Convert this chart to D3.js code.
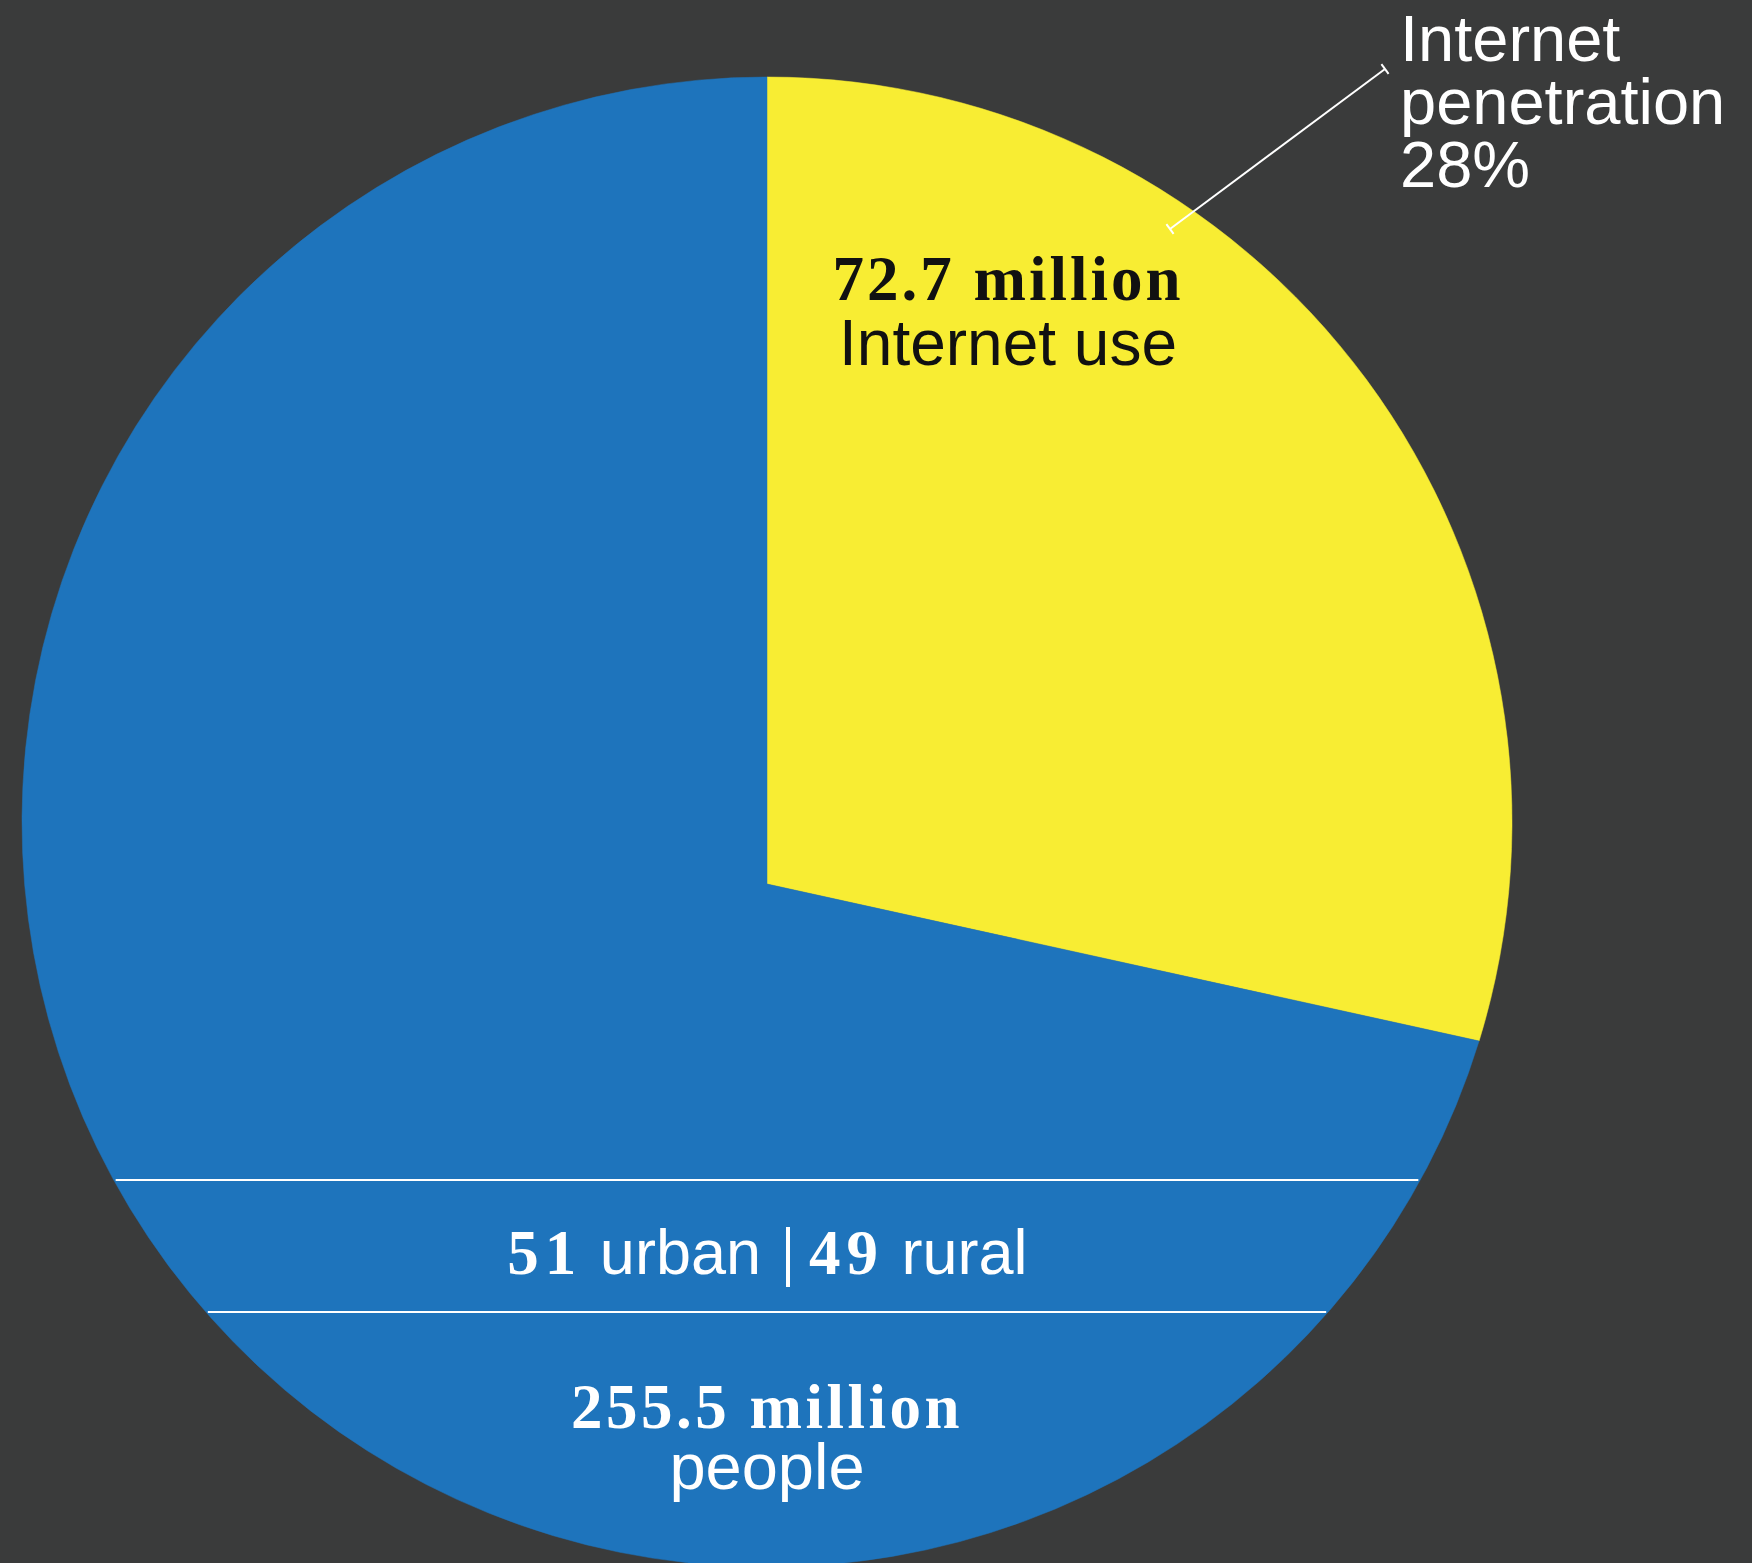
<!DOCTYPE html>
<html>
<head>
<meta charset="utf-8">
<script src="https://cdn.jsdelivr.net/npm/d3@7"></script>
<style>
  html, body { margin: 0; padding: 0; background: #3a3b3b; }
  svg { display: block; }
</style>
</head>
<body>
<div id="chart"></div>
<script>
// data (millions of people)
var categories = ["Internet use", "No Internet use"];
var values = [72.7, 182.8];
var colors = ["#f8ed33", "#1e74bc"];
var totalLabel = "255.5";
var useLabel = "72.7";
var penetration = ["Internet", "penetration", "28%"];
var urbanRural = [51, 49];

var width = 1752, height = 1563;

// circle geometry
var cx = 767, cy = 822, r = 745;
var apexOffset = 62; // the wedge tip sits a little below the circle centre

var svg = d3.select("#chart")
  .append("svg")
    .attr("width", width)
    .attr("height", height);

svg.append("rect")
  .attr("width", width)
  .attr("height", height)
  .attr("fill", "#3a3b3b");

var pie = d3.pie().sort(null).value(function(d) { return d; });
var arcs = pie(values);

// point where a ray from the apex at angle a (clockwise from top) meets the circle
function edgePoint(a) {
  var ux = Math.sin(a), uy = -Math.cos(a);
  var dx = 0, dy = apexOffset;
  var b = dx * ux + dy * uy;
  var t = -b + Math.sqrt(b * b - (dx * dx + dy * dy) + r * r);
  return [cx + dx + t * ux, cy + dy + t * uy];
}

function slicePath(d) {
  var p0 = edgePoint(d.startAngle),
      p1 = edgePoint(d.endAngle);
  // arc angle about the circle centre decides the large-arc flag
  var a0 = Math.atan2(p0[0] - cx, -(p0[1] - cy)),
      a1 = Math.atan2(p1[0] - cx, -(p1[1] - cy));
  var sweep = a1 - a0;
  while (sweep <= 0) sweep += 2 * Math.PI;
  var large = sweep > Math.PI ? 1 : 0;
  var path = d3.path();
  path.moveTo(cx, cy + apexOffset);
  path.lineTo(p0[0], p0[1]);
  return path.toString() +
    "A" + r + "," + r + " 0 " + large + " 1 " + p1[0] + "," + p1[1] + "Z";
}

svg.selectAll("path.slice")
  .data(arcs)
  .enter().append("path")
    .attr("class", "slice")
    .attr("d", slicePath)
    .attr("fill", function(d, i) { return colors[i]; })
    .attr("stroke", function(d, i) { return colors[i]; })
    .attr("stroke-width", 0.5);

// chords across the circle for the urban/rural band
function chord(y) {
  var h = Math.sqrt(r * r - (y - cy) * (y - cy));
  return [cx - h, cx + h];
}
[1180, 1312].forEach(function(y) {
  var c = chord(y);
  svg.append("line")
    .attr("x1", c[0] + 2).attr("x2", c[1] - 2)
    .attr("y1", y).attr("y2", y)
    .attr("stroke", "#ffffff")
    .attr("stroke-width", 2);
});

var sans = "'Liberation Sans', Arial, Helvetica, sans-serif";
var serif = "'Liberation Serif', 'Times New Roman', serif";

// Internet use label
svg.append("text")
  .attr("x", 1008).attr("y", 300)
  .attr("text-anchor", "middle")
  .attr("fill", "#111111")
  .attr("font-family", serif)
  .attr("font-weight", "bold")
  .attr("font-size", 63)
  .attr("letter-spacing", 3)
  .text(useLabel + " million");

svg.append("text")
  .attr("x", 1008).attr("y", 365)
  .attr("text-anchor", "middle")
  .attr("fill", "#111111")
  .attr("font-family", sans)
  .attr("font-size", 64)
  .text(categories[0]);

// urban | rural
svg.append("text")
  .attr("x", 761).attr("y", 1274)
  .attr("text-anchor", "end")
  .attr("fill", "#ffffff")
  .attr("font-size", 63)
  .call(function(t) {
    t.append("tspan").attr("font-family", serif).attr("font-weight", "bold")
      .attr("letter-spacing", 6).text(urbanRural[0]);
    t.append("tspan").attr("font-family", sans).text(" urban");
  });

svg.append("line")
  .attr("x1", 788).attr("x2", 788)
  .attr("y1", 1227).attr("y2", 1287)
  .attr("stroke", "#ffffff")
  .attr("stroke-width", 4);

svg.append("text")
  .attr("x", 809).attr("y", 1274)
  .attr("text-anchor", "start")
  .attr("fill", "#ffffff")
  .attr("font-size", 63)
  .call(function(t) {
    t.append("tspan").attr("font-family", serif).attr("font-weight", "bold")
      .attr("letter-spacing", 6).text(urbanRural[1]);
    t.append("tspan").attr("font-family", sans).text(" rural");
  });

// total population
svg.append("text")
  .attr("x", 767).attr("y", 1428)
  .attr("text-anchor", "middle")
  .attr("fill", "#ffffff")
  .attr("font-family", serif)
  .attr("font-weight", "bold")
  .attr("font-size", 63)
  .attr("letter-spacing", 3.5)
  .text(totalLabel + " million");

svg.append("text")
  .attr("x", 767).attr("y", 1489)
  .attr("text-anchor", "middle")
  .attr("fill", "#ffffff")
  .attr("font-family", sans)
  .attr("font-size", 65)
  .text("people");

// annotation leader line with end ticks
var l0 = [1170, 229], l1 = [1385, 69];
svg.append("line")
  .attr("x1", l0[0]).attr("y1", l0[1])
  .attr("x2", l1[0]).attr("y2", l1[1])
  .attr("stroke", "#ffffff")
  .attr("stroke-width", 2);
var ang = Math.atan2(l1[1] - l0[1], l1[0] - l0[0]);
[l0, l1].forEach(function(p) {
  var nx = -Math.sin(ang) * 6, ny = Math.cos(ang) * 6;
  svg.append("line")
    .attr("x1", p[0] - nx).attr("y1", p[1] - ny)
    .attr("x2", p[0] + nx).attr("y2", p[1] + ny)
    .attr("stroke", "#ffffff")
    .attr("stroke-width", 2);
});

svg.selectAll("text.pen")
  .data(penetration)
  .enter().append("text")
    .attr("class", "pen")
    .attr("x", 1400)
    .attr("y", function(d, i) { return 61 + i * 63; })
    .attr("fill", "#ffffff")
    .attr("font-family", sans)
    .attr("font-size", 65)
    .text(function(d) { return d; });
</script>
</body>
</html>
